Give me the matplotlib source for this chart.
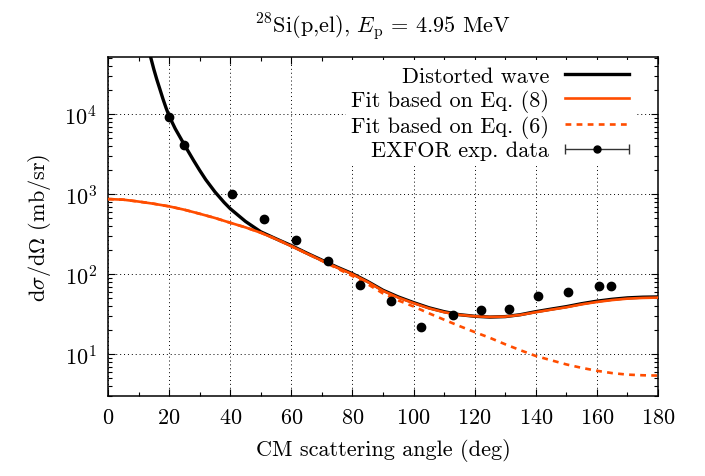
import numpy as np
import matplotlib
matplotlib.use("Agg")
import matplotlib.pyplot as plt
from matplotlib.ticker import MultipleLocator, LogLocator, NullFormatter
from matplotlib.legend_handler import HandlerErrorbar
from matplotlib.container import ErrorbarContainer

plt.rcParams['font.family'] = 'cmr10'
plt.rcParams['mathtext.fontset'] = 'cm'
plt.rcParams['axes.formatter.use_mathtext'] = True
plt.rcParams['axes.unicode_minus'] = False

# ---- data ----
dw_angle = [12, 13, 14, 15, 16, 17, 18, 19, 20, 22, 25, 28, 30, 32, 35, 38, 40, 45, 50, 55, 60,
            65, 70, 75, 80, 85, 90, 95, 100, 105, 110, 115, 120, 125, 130, 135, 140, 145, 150,
            155, 160, 165, 170, 175, 180]
dw_xs = [105000, 72000, 51000, 36500, 27000, 20500, 15500, 12000, 9500, 6600, 4150, 2650, 1990,
         1520, 1070, 790, 660, 457, 339, 277, 228,
         184, 150, 122.5, 101.5, 81, 63, 52, 44.2, 38.1, 34, 31.2, 29.8, 29.1, 29.5, 31.2, 34,
         36.6, 39.3, 42.8, 46, 48.6, 50.6, 51.6, 52]

eq8_angle = [0, 5, 10, 15, 20, 25, 30, 35, 40, 45, 50, 55, 60, 65, 70, 75, 80, 85, 90, 95, 100,
             105, 110, 115, 120, 125, 130, 135, 140, 145, 150, 155, 160, 165, 170, 175, 180]
eq8_xs = [870, 855, 810, 760, 705, 640, 570, 505, 440, 385, 330, 275, 224, 182, 148, 121, 100,
          80, 62, 51, 43.5, 37.5, 33.5, 31, 29.8, 29.2, 29.5, 31, 33.5, 36, 38.6, 42, 45, 47.5,
          49.5, 50.5, 51]

eq6_angle = [0, 5, 10, 15, 20, 25, 30, 35, 40, 45, 50, 55, 60, 65, 70, 75, 80, 85, 90, 95, 100,
             105, 110, 115, 120, 125, 130, 135, 140, 145, 150, 155, 160, 165, 170, 175, 180]
eq6_xs = [870, 855, 810, 760, 705, 640, 570, 505, 440, 385, 330, 275, 224, 182, 147, 118, 95,
          75, 57.5, 47, 39.5, 32.5, 27, 22.5, 18.9, 16, 13.3, 11.2, 9.5, 8.4, 7.45, 6.75, 6.2,
          5.8, 5.55, 5.45, 5.4]

exp_angle = [20.1, 25.0, 40.5, 51.2, 61.5, 71.9, 82.5, 92.6, 102.4, 112.8, 122.2, 131.2, 140.6,
             150.5, 160.7, 164.7]
exp_xs = [9200, 4100, 1000, 490, 267, 148, 73, 45.7, 21.7, 30.9, 35.6, 36.6, 52.7, 60.3, 70.2,
          71.6]

title = r'$^{28}$Si(p,el), $E_{\mathrm{p}}$ = 4.95 MeV'
xlabel = 'CM scattering angle (deg)'
ylabel = r'd$\sigma$/d$\Omega$ (mb/sr)'
labels = ['Distorted wave', 'Fit based on Eq. (8)', 'Fit based on Eq. (6)', 'EXFOR exp. data']

orange = '#ff4d00'
FS = 16

fig = plt.figure(figsize=(7.05, 4.77), dpi=100)
ax = fig.add_axes([108 / 705, 1 - 397 / 477, 550 / 705, 339 / 477])

l1, = ax.plot(dw_angle, dw_xs, color='black', lw=2.4, label=labels[0], zorder=3)
l2, = ax.plot(eq8_angle, eq8_xs, color=orange, lw=1.9, label=labels[1], zorder=4)
l3, = ax.plot(eq6_angle, eq6_xs, color=orange, lw=1.9, ls=(0, (2.2, 2.0)), label=labels[2], zorder=4)
ax.plot(exp_angle, exp_xs, 'o', color='black', ms=6, zorder=5)
eb = ax.errorbar([np.nan], [np.nan], xerr=[1], fmt='o', color='black', ms=5,
                 ecolor='#333333', elinewidth=1, capsize=3.5, label=labels[3])

ax.set_yscale('log')
ax.set_xlim(0, 180)
ax.set_ylim(3, 5.2e4)
ax.xaxis.set_major_locator(MultipleLocator(20))
ax.xaxis.set_minor_locator(MultipleLocator(10))
ax.yaxis.set_major_locator(LogLocator(base=10, numticks=10))
ax.yaxis.set_minor_locator(LogLocator(base=10, subs=np.arange(2, 10), numticks=20))
ax.yaxis.set_minor_formatter(NullFormatter())

ax.tick_params(which='both', direction='in', top=True, right=True, labelsize=FS, pad=8)
ax.tick_params(which='major', length=5, width=0.8)
ax.tick_params(which='minor', length=3, width=0.8)
for s in ax.spines.values():
    s.set_linewidth(1.1)

ax.grid(True, which='major', color='black', ls=(0, (1, 3)), lw=0.7)
ax.set_axisbelow(True)

ax.set_title(title, fontsize=FS, pad=18)
ax.set_xlabel(xlabel, fontsize=FS, labelpad=8)
ax.set_ylabel(ylabel, fontsize=FS, labelpad=8)

leg = ax.legend(handles=[l1, l2, l3, eb], labels=labels, loc='upper right',
                bbox_to_anchor=(0.958, 0.99), markerfirst=False, frameon=True,
                fontsize=FS, handlelength=2.9, handletextpad=0.7, labelspacing=0.14,
                borderpad=0.25, borderaxespad=0.0, fancybox=False,
                handler_map={ErrorbarContainer: HandlerErrorbar(xerr_size=1.45)})
leg.get_frame().set_edgecolor('none')
leg.get_frame().set_facecolor('white')
leg.get_frame().set_alpha(1)
leg.set_zorder(2.6)

fig.savefig('out.png', dpi=100)
